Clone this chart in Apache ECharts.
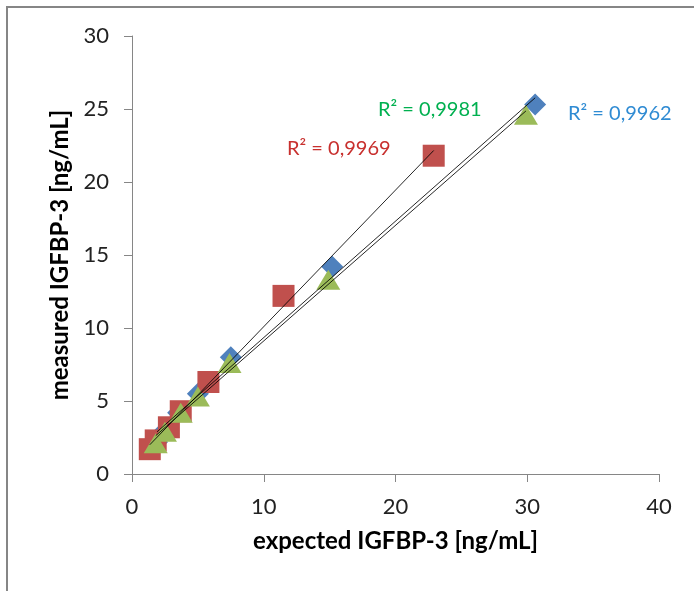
<!DOCTYPE html>
<html>
<head>
<meta charset="utf-8">
<script src="https://cdn.jsdelivr.net/npm/echarts@6/dist/echarts.min.js"></script>
<style>
  html, body { margin: 0; padding: 0; background: #fff; }
  #chart { width: 694px; height: 591px; }
</style>
</head>
<body>
<div id="chart"></div>
<script>
// expected / measured IGFBP-3 [ng/mL], three runs
var blueExpected = [30.6, 15.2, 7.5, 5.0, 3.5, 2.4, 1.9];
var blueMeasured = [25.3, 14.2, 8.0, 5.5, 4.2, 2.9, 2.2];
var redExpected = [22.9, 11.5, 5.8, 3.7, 2.8, 1.8, 1.35];
var redMeasured = [21.8, 12.2, 6.3, 4.3, 3.2, 2.3, 1.7];
var greenExpected = [29.9, 14.9, 7.4, 5.0, 3.7, 2.5, 1.8];
var greenMeasured = [24.6, 13.3, 7.6, 5.3, 4.2, 2.9, 2.1];
var r2Labels = ['R² = 0,9962', 'R² = 0,9969', 'R² = 0,9981'];

var fontName = 'Lato';

function pairs(xs, ys) {
    var out = [];
    for (var i = 0; i < xs.length; i++) {
        out.push([xs[i], ys[i]]);
    }
    return out;
}

// linear trendline, from smallest to largest x
function trend(xs, ys) {
    var n = xs.length, sx = 0, sy = 0, sxy = 0, sxx = 0;
    for (var i = 0; i < n; i++) {
        sx += xs[i]; sy += ys[i];
        sxy += xs[i] * ys[i]; sxx += xs[i] * xs[i];
    }
    var b = (n * sxy - sx * sy) / (n * sxx - sx * sx);
    var a = (sy - b * sx) / n;
    var x0 = Math.min.apply(null, xs), x1 = Math.max.apply(null, xs);
    return [[x0, a + b * x0], [x1, a + b * x1]];
}

function trendSeries(xs, ys) {
    return {
        type: 'line',
        data: trend(xs, ys),
        symbol: 'none',
        z: 10,
        silent: true,
        lineStyle: { color: '#000', width: 1, opacity: 0.85 }
    };
}

var chart = echarts.init(document.getElementById('chart'));
var option = {
    animation: false,
    grid: { left: 132, right: 35, top: 36, bottom: 117 },
    xAxis: {
        type: 'value',
        min: 0, max: 40, interval: 10,
        name: 'expected IGFBP-3 [ng/mL]',
        nameLocation: 'middle',
        nameGap: 55,
        nameTextStyle: { fontFamily: fontName, fontSize: 24, fontWeight: 'bold', color: '#000' },
        axisLine: { lineStyle: { color: '#868686' } },
        axisTick: { length: 8, lineStyle: { color: '#868686' } },
        axisLabel: { margin: 22, fontFamily: fontName, fontSize: 22, color: '#222' },
        splitLine: { show: false }
    },
    yAxis: {
        type: 'value',
        min: 0, max: 30, interval: 5,
        name: 'measured IGFBP-3 [ng/mL]',
        nameLocation: 'middle',
        nameGap: 55,
        nameTextStyle: { fontFamily: fontName, fontSize: 24, fontWeight: 'bold', color: '#000' },
        axisLine: { show: true, lineStyle: { color: '#868686' } },
        axisTick: { show: true, length: 8, lineStyle: { color: '#868686' } },
        axisLabel: { margin: 23, fontFamily: fontName, fontSize: 22, color: '#222' },
        splitLine: { show: false }
    },
    series: [
        {
            type: 'scatter', symbol: 'diamond', symbolSize: 22,
            data: pairs(blueExpected, blueMeasured),
            itemStyle: { color: '#4F81BD', opacity: 1 }
        },
        {
            type: 'scatter', symbol: 'rect', symbolSize: 22,
            data: pairs(redExpected, redMeasured),
            itemStyle: { color: '#C0504D', opacity: 1 }
        },
        {
            type: 'scatter', symbol: 'triangle', symbolSize: [24, 20],
            data: pairs(greenExpected, greenMeasured),
            itemStyle: { color: '#9BBB59', opacity: 1 }
        },
        trendSeries(blueExpected, blueMeasured),
        trendSeries(redExpected, redMeasured),
        trendSeries(greenExpected, greenMeasured)
    ],
    graphic: [
        {
            type: 'rect', silent: true,
            shape: { x: 7, y: 7, width: 720, height: 620 },
            style: { fill: 'none', stroke: '#868686', lineWidth: 2 }
        },
        {
            type: 'text', left: 568, top: 104,
            style: { text: r2Labels[0], fill: '#2F8BD3', font: '20px ' + fontName }
        },
        {
            type: 'text', left: 287, top: 139,
            style: { text: r2Labels[1], fill: '#C8302E', font: '20px ' + fontName }
        },
        {
            type: 'text', left: 378, top: 100,
            style: { text: r2Labels[2], fill: '#00B050', font: '20px ' + fontName }
        }
    ]
};
chart.setOption(option);
</script>
</body>
</html>
